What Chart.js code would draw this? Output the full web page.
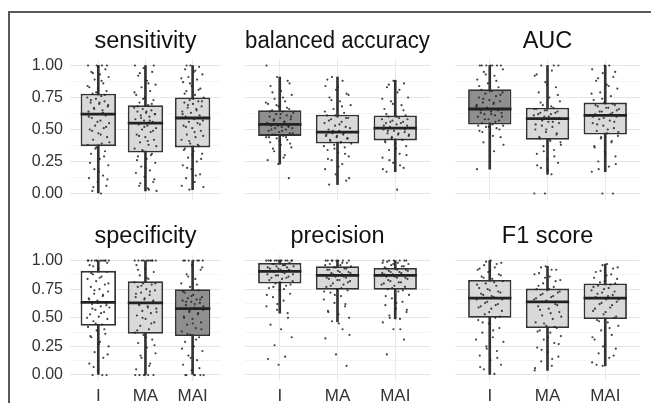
<!DOCTYPE html>
<html>
<head>
<meta charset="utf-8">
<script src="https://cdn.jsdelivr.net/npm/chart.js@4.4.1/dist/chart.umd.min.js"></script>
<style>
  html, body { margin: 0; padding: 0; background: #fff; }
  #fig { position: relative; width: 651px; height: 403px; overflow: hidden; background: #fff; }
  #frame { position: absolute; left: 8px; top: 11px; right: -10px; bottom: -10px;
           border-left: 2px solid #5a5a5a; border-top: 2px solid #5a5a5a; }
  #fig canvas { position: absolute; }
</style>
</head>
<body>
<div id="fig"><div id="frame"></div></div>
<script>
const groups = ['I', 'MA', 'MAI'];
const metrics = ['sensitivity', 'balanced accuracy', 'AUC', 'specificity', 'precision', 'F1 score'];

// box statistics: one row per metric, one column per group (I, MA, MAI)
const boxLow     = [[0.37, 0.32, 0.36], [0.45, 0.39, 0.415], [0.54, 0.42, 0.46], [0.43, 0.36, 0.34], [0.80, 0.745, 0.745], [0.50, 0.41, 0.49]];
const boxMedian  = [[0.62, 0.55, 0.59], [0.54, 0.48, 0.51],  [0.66, 0.585, 0.61], [0.635, 0.63, 0.58], [0.905, 0.87, 0.87], [0.672, 0.64, 0.672]];
const boxHigh    = [[0.78, 0.69, 0.75], [0.65, 0.615, 0.61], [0.815, 0.67, 0.71], [0.91, 0.82, 0.75], [0.98, 0.95, 0.935], [0.83, 0.755, 0.80]];
const whiskerLow = [[0.0, 0.02, 0.03], [0.23, 0.07, 0.17],   [0.19, 0.15, 0.17], [0.0, 0.0, 0.0],    [0.54, 0.465, 0.49], [0.0, 0.04, 0.08]];
const whiskerHigh= [[1.0, 1.0, 1.0],   [0.91, 0.91, 0.885],  [1.0, 1.0, 1.0],    [1.0, 1.0, 1.0],    [1.0, 1.0, 1.0],     [1.0, 0.95, 0.97]];

// per-sample scores, one list per group
const sensitivityPoints = [
  [0.00,0.02,0.06,0.09,0.12,0.14,0.19,0.22,0.27,0.31,0.33,0.36,0.38,0.39,0.42,0.44,0.47,0.50,0.51,0.53,0.55,0.57,0.59,0.61,
   0.62,0.64,0.65,0.67,0.68,0.70,0.71,0.72,0.74,0.75,0.76,0.78,0.80,0.82,0.83,0.86,0.89,0.91,0.93,0.95,0.97,1.00,1.00,1.00,
   0.05,0.11,0.17,0.24,0.29,0.35,0.40,0.46,0.49,0.52,0.56,0.60,0.63,0.66,0.69,0.71,0.73,0.77,0.79,0.84,0.88,0.94,1.00,0.99],
  [0.02,0.04,0.06,0.09,0.13,0.16,0.18,0.21,0.24,0.27,0.29,0.31,0.33,0.35,0.38,0.40,0.42,0.44,0.46,0.48,0.50,0.51,0.53,0.54,
   0.56,0.57,0.58,0.60,0.61,0.62,0.63,0.64,0.65,0.66,0.67,0.69,0.71,0.73,0.75,0.77,0.80,0.83,0.85,0.88,0.92,0.95,0.98,1.00,
   0.03,0.08,0.11,0.20,0.26,0.30,0.34,0.37,0.41,0.45,0.49,0.52,0.55,0.57,0.59,0.62,0.64,0.68,0.70,0.74,0.79,0.86,0.94,1.00],
  [0.03,0.05,0.09,0.12,0.15,0.19,0.22,0.25,0.28,0.31,0.33,0.35,0.37,0.39,0.42,0.44,0.46,0.49,0.51,0.53,0.55,0.56,0.57,0.58,
   0.60,0.61,0.63,0.64,0.66,0.67,0.68,0.70,0.71,0.72,0.73,0.75,0.77,0.80,0.82,0.84,0.87,0.89,0.91,0.93,0.95,0.97,0.99,1.00,
   0.06,0.14,0.20,0.27,0.30,0.34,0.38,0.41,0.45,0.48,0.52,0.54,0.59,0.62,0.65,0.69,0.72,0.74,0.78,0.81,0.86,0.90,0.96,1.00]
];
const balancedAccuracyPoints = [
  [0.12,0.23,0.26,0.30,0.33,0.36,0.38,0.40,0.42,0.43,0.44,0.45,0.46,0.47,0.48,0.49,0.50,0.51,0.51,0.52,0.53,0.53,0.54,
   0.55,0.56,0.57,0.58,0.59,0.60,0.61,0.62,0.63,0.64,0.65,0.66,0.68,0.70,0.72,0.74,0.77,0.80,0.84,0.88,0.91,1.00,
   0.28,0.35,0.39,0.41,0.44,0.44,0.46,0.47,0.49,0.50,0.52,0.53,0.55,0.56,0.58,0.60,0.62,0.64,0.67,0.69,0.71,0.75,0.79,0.86],
  [0.07,0.10,0.15,0.19,0.23,0.26,0.29,0.32,0.34,0.36,0.38,0.39,0.40,0.42,0.43,0.44,0.45,0.46,0.47,0.48,
   0.49,0.50,0.52,0.53,0.55,0.56,0.58,0.59,0.60,0.61,0.63,0.66,0.69,0.72,0.75,0.78,0.81,0.84,0.88,0.91,
   0.12,0.21,0.27,0.31,0.35,0.37,0.40,0.41,0.43,0.45,0.46,0.47,0.49,0.51,0.54,0.57,0.59,0.61,0.64,0.68,0.73,0.77,0.83,0.89],
  [0.03,0.17,0.20,0.24,0.28,0.31,0.34,0.37,0.39,0.41,0.42,0.43,0.45,0.46,0.47,0.48,0.49,0.50,0.51,
   0.52,0.53,0.54,0.55,0.56,0.57,0.58,0.59,0.60,0.61,0.63,0.66,0.69,0.72,0.75,0.79,0.83,0.86,0.88,
   0.19,0.22,0.26,0.30,0.35,0.40,0.42,0.44,0.46,0.47,0.49,0.50,0.51,0.53,0.55,0.56,0.58,0.60,0.62,0.65,0.70,0.74,0.81,0.85]
];
const aucPoints = [
  [0.19,0.33,0.40,0.44,0.47,0.49,0.51,0.52,0.53,0.54,0.55,0.57,0.58,0.60,0.61,0.62,0.63,0.64,0.65,0.66,
   0.67,0.68,0.70,0.71,0.72,0.73,0.75,0.76,0.78,0.79,0.80,0.81,0.83,0.86,0.89,0.92,0.95,1.00,1.00,1.00,1.00,1.00,
   0.38,0.45,0.48,0.50,0.52,0.53,0.56,0.58,0.60,0.62,0.63,0.65,0.67,0.69,0.71,0.74,0.77,0.80,0.84,0.88,0.93,0.97,1.00,1.00],
  [0.00,0.00,0.15,0.20,0.24,0.27,0.31,0.34,0.37,0.40,0.42,0.44,0.46,0.48,0.50,0.52,0.53,0.55,0.56,0.58,
   0.59,0.60,0.61,0.62,0.63,0.64,0.65,0.66,0.67,0.69,0.72,0.75,0.79,0.83,0.87,0.92,0.96,1.00,1.00,
   0.18,0.22,0.29,0.33,0.38,0.41,0.43,0.47,0.50,0.54,0.56,0.57,0.59,0.60,0.62,0.63,0.65,0.66,0.68,0.71,0.77,0.85,0.93,1.00],
  [0.00,0.00,0.17,0.21,0.25,0.29,0.33,0.37,0.40,0.43,0.45,0.47,0.49,0.51,0.53,0.55,0.57,0.58,0.60,
   0.61,0.62,0.63,0.64,0.66,0.67,0.68,0.69,0.71,0.73,0.76,0.79,0.82,0.85,0.88,0.91,0.94,0.97,1.00,
   0.19,0.23,0.31,0.36,0.41,0.44,0.48,0.50,0.54,0.56,0.59,0.60,0.62,0.64,0.65,0.67,0.69,0.70,0.74,0.78,0.84,0.90,0.95,1.00]
];
const specificityPoints = [
  [0.00,0.00,0.04,0.10,0.15,0.20,0.25,0.29,0.33,0.36,0.39,0.42,0.44,0.47,0.49,0.51,0.53,0.55,0.57,0.59,0.60,0.62,0.63,
   0.65,0.67,0.69,0.71,0.73,0.75,0.77,0.79,0.82,0.84,0.86,0.88,0.90,0.93,0.96,1.00,1.00,1.00,1.00,1.00,1.00,1.00,1.00,
   0.00,0.07,0.18,0.27,0.34,0.40,0.45,0.50,0.54,0.58,0.61,0.63,0.66,0.70,0.74,0.80,0.85,0.89,1.00,1.00,1.00,1.00,0.95,0.98],
  [0.00,0.00,0.00,0.00,0.05,0.10,0.15,0.19,0.24,0.28,0.31,0.35,0.37,0.40,0.43,0.46,0.49,0.52,0.54,0.56,0.58,0.60,0.62,
   0.64,0.66,0.68,0.70,0.72,0.74,0.75,0.77,0.79,0.80,0.81,0.84,0.87,0.90,0.93,0.96,1.00,1.00,1.00,1.00,1.00,1.00,
   0.00,0.00,0.08,0.17,0.26,0.33,0.39,0.45,0.50,0.55,0.59,0.61,0.65,0.67,0.71,0.73,0.78,0.80,0.85,0.92,1.00,1.00,1.00,1.00],
  [0.00,0.00,0.00,0.00,0.04,0.09,0.13,0.17,0.21,0.25,0.29,0.33,0.35,0.38,0.41,0.44,0.46,0.49,0.51,0.53,0.55,0.57,
   0.59,0.61,0.63,0.64,0.65,0.66,0.67,0.68,0.70,0.72,0.74,0.77,0.80,0.84,0.88,0.92,0.96,1.00,1.00,1.00,1.00,
   0.00,0.00,0.06,0.15,0.23,0.31,0.36,0.40,0.45,0.50,0.54,0.56,0.60,0.62,0.64,0.66,0.69,0.73,0.79,0.86,0.94,1.00,1.00,1.00]
];
const precisionPoints = [
  [0.09,0.14,0.16,0.26,0.33,0.40,0.44,0.54,0.57,0.60,0.65,0.68,0.71,0.74,0.76,0.78,0.80,0.82,0.84,0.85,0.86,0.87,0.88,
   0.89,0.90,0.91,0.92,0.93,0.94,0.95,0.95,0.96,0.97,0.98,1.00,1.00,1.00,1.00,1.00,1.00,1.00,
   0.50,0.62,0.70,0.75,0.77,0.79,0.81,0.83,0.85,0.87,0.88,0.90,0.91,0.92,0.93,0.94,0.96,0.97,1.00,1.00,1.00,1.00,1.00,1.00],
  [0.08,0.18,0.32,0.40,0.47,0.50,0.53,0.56,0.60,0.63,0.66,0.69,0.72,0.74,0.75,0.77,0.79,0.80,0.82,0.83,0.84,0.85,0.86,
   0.87,0.88,0.89,0.90,0.91,0.92,0.93,0.94,0.95,0.96,0.97,0.98,1.00,1.00,1.00,1.00,
   0.35,0.45,0.55,0.62,0.70,0.73,0.76,0.78,0.81,0.83,0.85,0.86,0.88,0.89,0.90,0.92,0.93,0.94,0.96,0.98,1.00,1.00,1.00,1.00],
  [0.18,0.31,0.40,0.46,0.49,0.52,0.55,0.58,0.61,0.64,0.67,0.70,0.73,0.75,0.77,0.78,0.80,0.81,0.82,0.84,0.85,0.86,0.87,
   0.88,0.89,0.90,0.91,0.92,0.93,0.94,0.95,0.96,0.97,0.98,0.99,1.00,1.00,1.00,
   0.40,0.50,0.57,0.63,0.69,0.74,0.76,0.79,0.81,0.83,0.85,0.86,0.88,0.89,0.90,0.91,0.92,0.93,0.95,0.97,0.98,1.00,1.00,1.00]
];
const f1Points = [
  [0.01,0.05,0.09,0.13,0.17,0.21,0.25,0.29,0.33,0.37,0.41,0.45,0.48,0.50,0.53,0.56,0.58,0.60,0.62,0.64,0.66,
   0.68,0.70,0.72,0.74,0.76,0.78,0.80,0.82,0.84,0.86,0.88,0.90,0.92,0.94,0.96,0.98,1.00,
   0.07,0.15,0.23,0.31,0.39,0.46,0.51,0.55,0.59,0.61,0.63,0.66,0.69,0.71,0.73,0.75,0.79,0.81,0.85,0.87,0.91,0.93,0.97,0.99],
  [0.04,0.08,0.12,0.16,0.20,0.24,0.28,0.31,0.34,0.37,0.39,0.41,0.43,0.46,0.49,0.52,0.55,0.58,0.60,0.62,
   0.64,0.66,0.68,0.70,0.72,0.74,0.75,0.77,0.80,0.83,0.86,0.89,0.92,0.95,
   0.06,0.14,0.22,0.27,0.33,0.38,0.42,0.45,0.51,0.54,0.57,0.61,0.65,0.67,0.69,0.71,0.73,0.75,0.78,0.82,0.85,0.88,0.92,0.94],
  [0.08,0.11,0.15,0.19,0.23,0.27,0.31,0.35,0.39,0.43,0.46,0.48,0.50,0.53,0.56,0.59,0.62,0.64,0.66,
   0.68,0.70,0.72,0.74,0.76,0.78,0.80,0.82,0.85,0.88,0.91,0.94,0.97,
   0.09,0.17,0.25,0.33,0.41,0.47,0.51,0.55,0.58,0.61,0.63,0.66,0.69,0.71,0.73,0.75,0.77,0.79,0.81,0.84,0.87,0.90,0.93,0.96]
];
const metricPoints = [sensitivityPoints, balancedAccuracyPoints, aucPoints, specificityPoints, precisionPoints, f1Points];

// styling
const LIGHT = '#d9d9d9', DARK = '#8f8f8f', WHITE = '#ffffff';
const boxFills = [
  [LIGHT, LIGHT, LIGHT], [DARK, LIGHT, LIGHT], [DARK, LIGHT, LIGHT],
  [WHITE, LIGHT, DARK],  [LIGHT, LIGHT, LIGHT], [LIGHT, LIGHT, LIGHT]
];
const FONT = "'Liberation Sans', Arial, Helvetica, sans-serif";
const BOX_WIDTH = 0.75;
const JITTER = 0.24;

const colLeft = [0, 244, 454];
const colWidth = [222, 187, 187];
const rowTop = [0, 212];
const rowHeight = [201, 191];
const titlePad = [{top: 27.6, bottom: 3.3}, {top: 10.8, bottom: 3.85}];
const xAxisHeight = [0, 22.25];

const fig = document.getElementById('fig');

metrics.forEach(function (name, m) {
  const row = Math.floor(m / 3), col = m % 3;
  const canvas = document.createElement('canvas');
  canvas.width = colWidth[col];
  canvas.height = rowHeight[row];
  canvas.style.left = colLeft[col] + 'px';
  canvas.style.top = rowTop[row] + 'px';
  fig.appendChild(canvas);

  const whiskers = groups.map((g, i) => ({x: i + 1, y: [whiskerLow[m][i], whiskerHigh[m][i]]}));
  const boxes = groups.map((g, i) => ({x: i + 1, y: [boxLow[m][i], boxHigh[m][i]]}));
  const medians = [];
  groups.forEach(function (g, i) {
    medians.push({x: i + 1 - BOX_WIDTH / 2, y: boxMedian[m][i]});
    medians.push({x: i + 1 + BOX_WIDTH / 2, y: boxMedian[m][i]});
    medians.push({x: i + 1.45, y: null});
  });
  // jittered sample points, horizontal spread from a fixed golden-ratio sequence
  const points = [];
  metricPoints[m].forEach(function (vals, i) {
    vals.forEach(function (v, k) {
      const u = ((k + 1) * 0.6180339887 + i * 0.37 + m * 0.21) % 1;
      points.push({x: i + 1 + (u * 2 - 1) * JITTER, y: v});
    });
  });

  new Chart(canvas, {
    type: 'bar',
    data: {
      datasets: [
        {type: 'scatter', data: points, order: 0, pointRadius: 1.1, pointHoverRadius: 1.1,
         pointBorderWidth: 0, backgroundColor: 'rgba(35,35,35,0.85)'},
        {type: 'line', data: medians, order: 1, borderColor: '#222', borderWidth: 2.8,
         pointRadius: 0, spanGaps: false, borderCapStyle: 'butt'},
        {type: 'bar', data: boxes, order: 2, grouped: false, barPercentage: BOX_WIDTH, categoryPercentage: 1,
         backgroundColor: boxFills[m], borderColor: '#333', borderWidth: 1.8, borderSkipped: false},
        {type: 'bar', data: whiskers, order: 3, grouped: false, barThickness: 2,
         backgroundColor: '#333', borderWidth: 0}
      ]
    },
    options: {
      responsive: false,
      animation: false,
      devicePixelRatio: 1,
      events: [],
      layout: {padding: 0},
      plugins: {
        legend: {display: false},
        tooltip: {enabled: false},
        title: {
          display: true, text: name, fullSize: false, color: '#111',
          font: {family: FONT, size: 23.5, weight: 'normal', lineHeight: 1.2},
          padding: titlePad[row]
        }
      },
      scales: {
        x: {
          type: 'linear', min: 0.4, max: 3.6, offset: false,
          afterBuildTicks: s => { s.ticks = groups.map((g, i) => ({value: i + 1})); },
          afterFit: s => {
            s.height = xAxisHeight[row];
            s.paddingLeft = 0; s.paddingRight = 0;
          },
          ticks: {display: row === 1, autoSkip: false, maxRotation: 0, padding: 5, color: '#333',
                  font: {family: FONT, size: 17}, callback: v => groups[v - 1]},
          grid: {color: '#e9e9e9', lineWidth: 1, drawTicks: false, offset: false},
          border: {display: false}
        },
        y: {
          type: 'linear', min: -0.05, max: 1.05,
          afterBuildTicks: s => {
            const t = [];
            for (let k = 0; k <= 8; k++) t.push({value: k * 0.125});
            s.ticks = t;
          },
          // keep the panel height fixed: no extra room for the end labels
          afterFit: s => {
            s.width = col === 0 ? 70 : 0;
            s.paddingTop = 0; s.paddingBottom = 0;
          },
          ticks: {display: col === 0, autoSkip: false, padding: 7, color: '#333',
                  font: {family: FONT, size: 16},
                  callback: v => (v % 0.25 === 0 ? v.toFixed(2) : '')},
          grid: {
            drawTicks: false,
            color: c => (c.tick && c.tick.value % 0.25 === 0 ? '#e6e6e6' : '#f1f1f1'),
            lineWidth: c => (c.tick && c.tick.value % 0.25 === 0 ? 1.1 : 0.8)
          },
          border: {display: false}
        }
      }
    }
  });
});
</script>
</body>
</html>
